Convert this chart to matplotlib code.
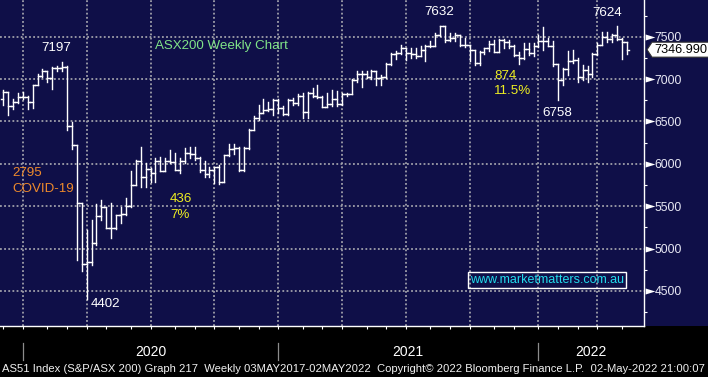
import numpy as np
import pandas as pd
import matplotlib
matplotlib.use("Agg")
import matplotlib.pyplot as plt
from matplotlib.collections import LineCollection
from matplotlib.patches import Polygon, Rectangle

plt.rcParams['font.family'] = ['Liberation Sans', 'DejaVu Sans']

# ---------------- data (weekly OHLC, week ending Friday) ----------------
first_week = '2019-11-29'
opens = [6760, 6846, 6680, 6730, 6790, 6790, 6730, 6929, 7041, 7090, 7017, 7133, 7126,
         7139, 6441, 6217, 5539, 4817, 4842, 5067, 5388, 5487, 5242, 5245, 5391, 5405,
         5497, 5755, 6036, 5848, 5942, 5897, 6033, 5920, 6033, 6024, 5927, 6028, 6126,
         6111, 6073, 5925, 5878, 5923, 5965, 5791, 6102, 6176, 6186, 5927, 6190, 6405,
         6539, 6601, 6635, 6642, 6757, 6664, 6587, 6758, 6715, 6800, 6607, 6841, 6805,
         6794, 6673, 6711, 6767, 6708, 6824, 6828, 6995, 7063, 7061, 7025, 7095, 7014,
         7030, 7179, 7296, 7312, 7369, 7308, 7300, 7274, 7349, 7394, 7393, 7516, 7628,
         7460, 7488, 7522, 7406, 7403, 7342, 7193, 7320, 7363, 7415, 7324, 7457, 7443,
         7396, 7279, 7243, 7353, 7305, 7388, 7445, 7453, 7393, 7174, 6988, 7120, 7217,
         7221, 7030, 7111, 7064, 7295, 7406, 7493, 7478, 7523, 7473, 7435]
highs = [6870, 6850, 6760, 6830, 6850, 6800, 6930, 7065, 7118, 7100, 7140, 7160, 7197,
         7150, 6495, 6217, 5540, 5215, 5333, 5530, 5573, 5494, 5542, 5396, 5495, 5601,
         5915, 6040, 6204, 6006, 5947, 6066, 6085, 6066, 6165, 6125, 6066, 6185, 6200,
         6200, 6080, 6030, 5967, 5967, 5990, 6110, 6230, 6240, 6203, 6200, 6410, 6560,
         6700, 6760, 6735, 6760, 6760, 6680, 6760, 6780, 6820, 6830, 6850, 6895, 6930,
         6800, 6830, 6870, 6860, 6830, 6840, 7000, 7090, 7090, 7090, 7110, 7100, 7050,
         7185, 7305, 7330, 7405, 7370, 7365, 7365, 7390, 7400, 7445, 7540, 7630, 7632,
         7540, 7545, 7525, 7485, 7405, 7345, 7330, 7366, 7445, 7465, 7472, 7472, 7465,
         7405, 7325, 7425, 7425, 7430, 7523, 7610, 7485, 7445, 7180, 7130, 7330, 7345,
         7250, 7170, 7150, 7305, 7425, 7550, 7560, 7530, 7624, 7480, 7435]
lows = [6700, 6575, 6650, 6720, 6760, 6650, 6660, 6925, 7030, 6970, 6880, 7090, 7100,
        6400, 6180, 4860, 4730, 4402, 4810, 5040, 5337, 5238, 5120, 5230, 5300, 5400,
        5494, 5750, 5730, 5730, 5790, 5790, 5910, 5915, 6010, 5925, 5890, 6006, 6066,
        6050, 5900, 5850, 5850, 5770, 5760, 5780, 6090, 6120, 5910, 5920, 6180, 6400,
        6520, 6600, 6620, 6580, 6600, 6575, 6575, 6690, 6690, 6540, 6540, 6790, 6780,
        6668, 6668, 6680, 6680, 6690, 6800, 6820, 6970, 6910, 7010, 7000, 6930, 6930,
        7010, 7170, 7240, 7300, 7230, 7250, 7250, 7270, 7208, 7380, 7390, 7510, 7440,
        7450, 7445, 7393, 7380, 7210, 7169, 7169, 7300, 7330, 7315, 7320, 7365, 7365,
        7270, 7180, 7240, 7290, 7270, 7380, 7345, 7385, 7150, 6758, 6935, 7050, 7190,
        6970, 6990, 6970, 7030, 7290, 7400, 7440, 7440, 7460, 7240, 7300]
closes = [6846, 6680, 6730, 6790, 6790, 6730, 6929, 7041, 7090, 7017, 7133, 7126, 7139,
          6441, 6217, 5539, 4817, 4842, 5067, 5388, 5487, 5242, 5245, 5391, 5405, 5497,
          5755, 6036, 5848, 5942, 5897, 6033, 5920, 6033, 6024, 5927, 6028, 6126, 6111,
          6073, 5925, 5878, 5923, 5965, 5791, 6102, 6176, 6186, 5927, 6190, 6405, 6539,
          6601, 6635, 6642, 6757, 6664, 6587, 6758, 6715, 6800, 6607, 6841, 6805, 6794,
          6673, 6711, 6767, 6708, 6824, 6828, 6995, 7063, 7061, 7025, 7095, 7014, 7030,
          7179, 7296, 7312, 7369, 7308, 7300, 7274, 7349, 7394, 7393, 7516, 7628, 7460,
          7488, 7522, 7406, 7403, 7342, 7193, 7320, 7363, 7415, 7324, 7457, 7443, 7396,
          7279, 7243, 7353, 7305, 7388, 7445, 7453, 7393, 7174, 6988, 7120, 7217, 7221,
          7030, 7111, 7064, 7295, 7406, 7493, 7478, 7523, 7473, 7435, 7347]
last_price = 7346.990
y_ticks = [4500, 5000, 5500, 6000, 6500, 7000, 7500]
year_labels = ['2020', '2021', '2022']
footer = ("AS51 Index (S&P/ASX 200) Graph 217  Weekly 03MAY2017-02MAY2022  "
          "Copyright\u00a9 2022 Bloomberg Finance L.P.  02-May-2022 21:00:07")

n = len(closes)
dates = pd.date_range(first_week, periods=n, freq='W-FRI')
x = np.arange(n)

def idx_before(day):
    """index of last weekly bar dated strictly before `day`"""
    return int(np.searchsorted(dates.values, np.datetime64(day))) - 1

month_starts = pd.date_range('2019-12-01', '2022-05-01', freq='MS')
month_idx = [idx_before(m) for m in month_starts]
quarter_idx = [idx_before(m) for m in month_starts if m.month in (1, 4, 7, 10)]
year_idx = [idx_before(pd.Timestamp(f'{y}-01-01')) for y in year_labels]

# ---------------- figure ----------------
W, H = 708, 377
AX_R, AX_B = 644, 326
navy = '#0f0f48'
white = '#ffffff'
fig = plt.figure(figsize=(W / 100, H / 100), dpi=100, facecolor='black')
ax = fig.add_axes([0, 1 - AX_B / H, AX_R / W, AX_B / H])
ax.set_facecolor(navy)
fig.patches.append(Rectangle((AX_R / W, 1 - AX_B / H), (W - AX_R) / W, AX_B / H,
                             transform=fig.transFigure, fc=navy, ec='none', zorder=-5))

ax.set_xlim(-0.65, 130.5)
ax.set_ylim(4087, 7933)

grid_kw = dict(color='#a0a0aa', lw=1.3, linestyle=(0, (1.0, 1.3)), zorder=1)
for v in y_ticks:
    ax.axhline(v, **grid_kw)
for q in quarter_idx:
    ax.axvline(q, **grid_kw)

segs = []
for i in range(n):
    segs.append([(x[i], lows[i]), (x[i], highs[i])])
    segs.append([(x[i] - 0.5, opens[i]), (x[i], opens[i])])
    segs.append([(x[i], closes[i]), (x[i] + 0.5, closes[i])])
ax.add_collection(LineCollection(segs, colors=white, linewidths=1.0, zorder=3,
                                 capstyle='projecting'))

# spines / axes
for s in ('top', 'left'):
    ax.spines[s].set_visible(False)
for s in ('right', 'bottom'):
    ax.spines[s].set_color(white)
    ax.spines[s].set_linewidth(1.0)
ax.yaxis.tick_right()
ax.set_yticks(y_ticks)
ax.set_yticklabels([str(v) for v in y_ticks])
ax.set_yticks([v + 250 for v in [4000] + y_ticks], minor=True)
ax.tick_params(axis='y', which='major', length=0, pad=7.5, labelsize=8.8,
               labelcolor='#e8e8f4')
ax.tick_params(axis='y', which='minor', length=2.3, width=0.8, color=white, direction='out')
ax.set_xticks(month_idx)
ax.set_xticklabels([])
ax.tick_params(axis='x', which='major', length=2.3, width=0.8, color=white, direction='out')

# triangles at major y ticks
tri = [(-1, -0.62), (1, 0), (-1, 0.62)]
ax.plot(np.full(len(y_ticks), 1 + 5.5 / AX_R), y_ticks, ls='none', marker=tri, ms=7,
        color=white, mec='none', transform=ax.get_yaxis_transform(), clip_on=False, zorder=5)

# year separators and labels
xt = ax.get_xaxis_transform()
for yi in year_idx:
    ax.plot([yi, yi], [-(343 - AX_B) / AX_B, -(360 - AX_B) / AX_B], color='#8c8c8c',
            lw=0.9, transform=xt, clip_on=False)
bounds = year_idx + [ax.get_xlim()[1]]
for k, lab in enumerate(year_labels):
    ax.text((bounds[k] + bounds[k + 1]) / 2, -(352 - AX_B) / AX_B, lab, transform=xt,
            ha='center', va='center', color=white, fontsize=10)

# footer
ft = fig.text(2 / W, 1 - 369 / H, footer, ha='left', va='center', color='#f0f0f0',
              fontsize=8)
fig.canvas.draw()
wpx = ft.get_window_extent().width
ft.set_fontsize(8 * 703 / wpx)

# annotations (positions in data coordinates)
ann = dict(fontsize=9.6, va='center')
ax.text(10.8, 7367, '7197', color=white, ha='center', **ann)
ax.text(30.9, 7392, 'ASX200 Weekly Chart', color='#80e488', ha='left', **ann)
ax.text(1.8, 5890, '2795', color='#ee8a2c', ha='left', **ann)
ax.text(1.8, 5701, 'COVID-19', color='#ee8a2c', ha='left', **ann)
ax.text(17.9, 4345, '4402', color=white, ha='left', **ann)
ax.text(34.0, 5585, '436', color='#eeee22', ha='left', **ann)
ax.text(34.0, 5396, '7%', color='#eeee22', ha='left', **ann)
ax.text(88.8, 7791, '7632', color=white, ha='center', **ann)
ax.text(123.0, 7780, '7624', color=white, ha='center', **ann)
ax.text(100.0, 7036, '874', color='#eeee22', ha='left', **ann)
ax.text(100.0, 6859, '11.5%', color='#eeee22', ha='left', **ann)
ax.text(109.9, 6600, '6758', color=white, ha='left', **ann)
ax.text(110.8, 4629, 'www.marketmatters.com.au', color='#22dcec', ha='center',
        va='center', fontsize=9.0,
        bbox=dict(boxstyle='square,pad=0.15', fc='none', ec=white, lw=1.0))

# last price box
fig.canvas.draw()
xs = ax.transAxes.transform((1, 0))[0]
yp = ax.transData.transform((0, last_price))[1]
poly = Polygon([(xs + 3, yp), (xs + 8, yp + 7.5), (xs + 80, yp + 7.5),
                (xs + 80, yp - 7.5), (xs + 8, yp - 7.5)], closed=True,
               fc='white', ec='#303030', lw=0.8, transform=None, zorder=10)
fig.patches.append(poly)
fig.text((xs + 10) / W, yp / H, f'{last_price:.3f}', ha='left', va='center',
         color='black', fontsize=9.2, zorder=11)

fig.savefig('out.png', dpi=100, facecolor='black')
